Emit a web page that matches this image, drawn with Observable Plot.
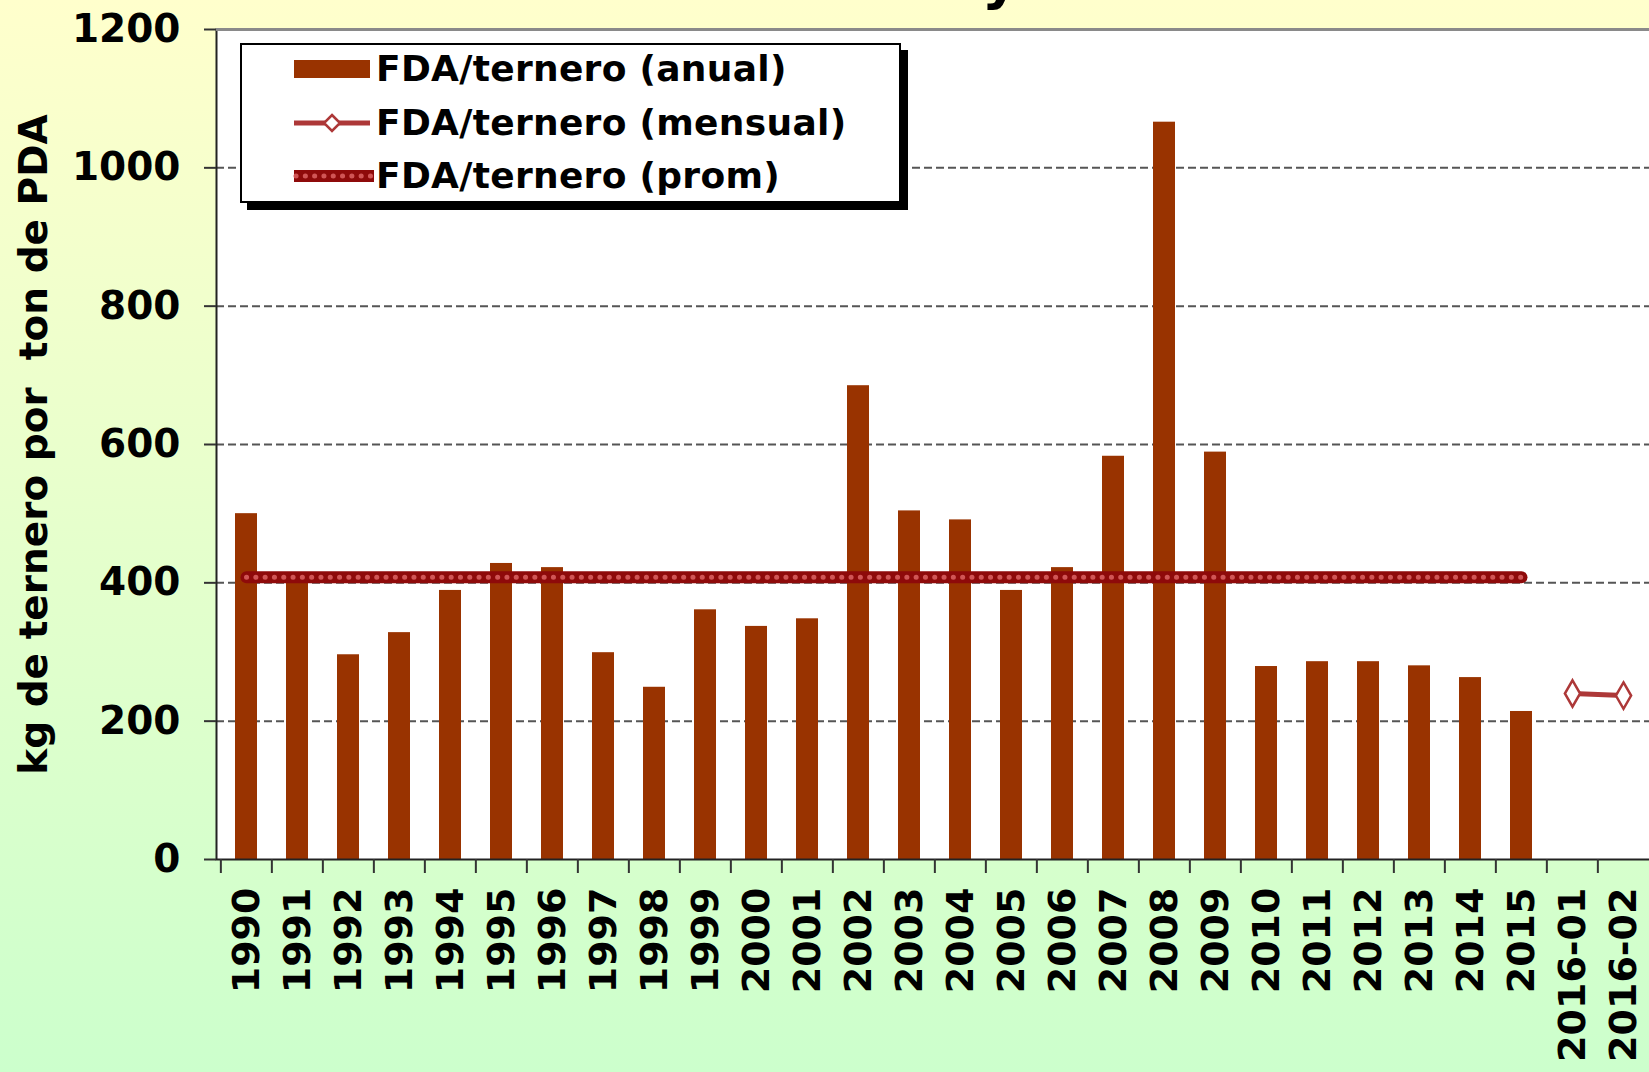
<!DOCTYPE html>
<html>
<head>
<meta charset="utf-8">
<script src="https://cdn.jsdelivr.net/npm/d3@7"></script>
<script src="https://cdn.jsdelivr.net/npm/@observablehq/plot@0.6"></script>
<style>
  html, body { margin: 0; padding: 0; }
  body {
    width: 1649px; height: 1072px; overflow: hidden; position: relative;
    background: linear-gradient(to bottom, #FFFFCC 0%, #CCFFCC 100%);
    font-family: "DejaVu Sans", Verdana, sans-serif; font-weight: bold; color: #000;
  }
  #chart { position: absolute; left: 0; top: 0; }
  #title {
    position: absolute; left: 0; top: -50px; width: 1649px; text-align: center;
    font-size: 57px; line-height: 57px; white-space: pre;
  }
  #legend {
    position: absolute; left: 240px; top: 43px; width: 657px; height: 156px;
    background: #fff; border: 2px solid #000; box-shadow: 7px 7px 0 #000;
  }
  .lrow { position: absolute; left: 0; width: 661px; height: 36px; font-size: 36px; line-height: 36px; white-space: pre; letter-spacing: 0.3px; }
  .lrow svg { position: absolute; left: 50px; top: 0; }
  .lrow span { position: absolute; left: 134px; top: 0; }
</style>
</head>
<body>
<div id="chart"></div>
<div id="title">Fosfato Diamónico y Ternero</div>
<div id="legend"></div>
<script>
// ---- data ----
const categories = ["1990","1991","1992","1993","1994","1995","1996","1997","1998","1999",
  "2000","2001","2002","2003","2004","2005","2006","2007","2008","2009",
  "2010","2011","2012","2013","2014","2015","2016-01","2016-02"];
const annualYears = ["1990","1991","1992","1993","1994","1995","1996","1997","1998","1999",
  "2000","2001","2002","2003","2004","2005","2006","2007","2008","2009",
  "2010","2011","2012","2013","2014","2015"];
const annualValues = [500,402,296,328,389,428,422,299,249,361,
  337,348,685,504,491,389,422,583,1066,589,
  279,286,286,280,263,214];
const monthlyPeriods = ["2016-01","2016-02"];
const monthlyValues = [240,237];
const promValue = 408;
const yTicks = [0,200,400,600,800,1000,1200];
const gridTicks = [200,400,600,800,1000];
const seriesNames = ["FDA/ternero (anual)","FDA/ternero (mensual)","FDA/ternero (prom)"];
const yLabel = "kg de ternero por  ton de PDA";

// ---- tables ----
const annual = annualYears.map((c, i) => ({cat: c, value: annualValues[i]}));
const monthly = monthlyPeriods.map((c, i) => ({cat: c, value: monthlyValues[i]}));
const prom = annualYears.map(c => ({cat: c, value: promValue}));

const W = 1649, H = 1072, ML = 216, MR = -3, MT = 29, MB = 213;
const step = (W - ML - MR) / categories.length;

const barColor = "#993300";
const promColor = "#8e0a0a";
const monthColor = "#ad3838";

const chart = Plot.plot({
  width: W, height: H,
  marginLeft: ML, marginRight: MR, marginTop: MT, marginBottom: MB,
  style: {background: "transparent", fontFamily: "'DejaVu Sans', Verdana, sans-serif",
          fontWeight: "bold", fontSize: "38px", color: "#000", overflow: "visible", whiteSpace: "pre"},
  x: {domain: categories, type: "band", paddingInner: 0.57, paddingOuter: 0.285, axis: null, label: null},
  y: {domain: [0, 1200], axis: null, label: null},
  marks: [
    Plot.frame({fill: "#fff", stroke: null}),
    Plot.ruleY(gridTicks, {stroke: "#555", strokeWidth: 2, strokeDasharray: "8,4"}),
    Plot.barY(annual, {x: "cat", y: "value", fill: barColor}),
    Plot.lineY(prom, {x: "cat", y: "value", stroke: promColor, strokeWidth: 12}),
    Plot.lineY(prom, {x: "cat", y: "value", stroke: "#d05555", strokeWidth: 5,
      strokeDasharray: "0.1,9.2", strokeLinecap: "round"}),
    Plot.lineY(monthly, {x: "cat", y: "value", stroke: monthColor, strokeWidth: 5}),
    Plot.dot(monthly, {x: "cat", y: "value", symbol: "diamond", r: 8, fill: "#fff",
      stroke: monthColor, strokeWidth: 2.5}),
    Plot.frame({stroke: "#222", strokeWidth: 2}),
    Plot.ruleY([1200], {stroke: "#8a8a8a", strokeWidth: 3}),
    Plot.axisY(yTicks, {tickSize: 12, tickPadding: 24, fontSize: 39, stroke: "#333", strokeWidth: 2,
      fill: "#000", label: null, tickFormat: d => String(d)}),
    Plot.axisX(categories, {tickSize: 14, tickFormat: () => "", dx: -step / 2, stroke: "#333",
      strokeWidth: 2, label: null}),
    Plot.axisX(categories, {tickSize: 0, tickPadding: 28, tickRotate: -90, fontSize: 38,
      fill: "#000", label: null}),
    Plot.text([yLabel], {frameAnchor: "left", textAnchor: "middle", dx: -182, dy: 0, rotate: -90,
      fontSize: 39, fill: "#000", text: d => d})
  ]
});
document.getElementById("chart").appendChild(chart);

// ---- legend (HTML overlay) ----
const legend = document.getElementById("legend");
const swatches = [
  `<svg width="80" height="36"><rect x="2" y="9" width="76" height="18" fill="${barColor}"/></svg>`,
  `<svg width="80" height="36"><line x1="2" x2="78" y1="18" y2="18" stroke="${monthColor}" stroke-width="5"/>` +
    `<path d="M40 10 L48 18 L40 26 L32 18 Z" fill="#fff" stroke="${monthColor}" stroke-width="2.5"/></svg>`,
  `<svg width="84" height="36"><line x1="2" x2="82" y1="18" y2="18" stroke="${promColor}" stroke-width="12"/>` +
    `<line x1="4" x2="82" y1="18" y2="18" stroke="#d05555" stroke-width="5" stroke-dasharray="0.1,9.2" stroke-linecap="round"/></svg>`
];
const rowTops = [6, 60, 113];
seriesNames.forEach((name, i) => {
  const row = document.createElement("div");
  row.className = "lrow";
  row.style.top = rowTops[i] + "px";
  row.innerHTML = swatches[i] + `<span>${name}</span>`;
  legend.appendChild(row);
});
</script>
</body>
</html>
